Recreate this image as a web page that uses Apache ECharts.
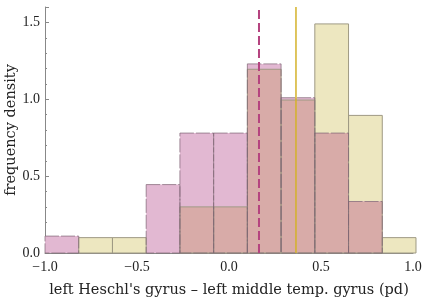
<!DOCTYPE html>
<html><head><meta charset="utf-8">
<script src="https://cdn.jsdelivr.net/npm/echarts@6/dist/echarts.min.js"></script>
<style>html,body{margin:0;padding:0;background:#fff}#c{width:425px;height:307px}</style>
</head><body><div id="c"></div>
<script>
const binStart = -1.0;
const binWidth = 0.1833;
const pinkDensity   = [0.11, 0, 0, 0.445, 0.78, 0.78, 1.23, 1.01, 0.78, 0.335, 0];
const yellowDensity = [0, 0.1, 0.1, 0, 0.3, 0.3, 1.195, 0.995, 1.49, 0.895, 0.1];
const pinkMean = 0.163;
const yellowMean = 0.364;
const xTicks = [-1.0, -0.5, 0.0, 0.5, 1.0];
const yTicks = [0.0, 0.5, 1.0, 1.5];

function binData(arr){
  return arr.map((h,i)=>[binStart+i*binWidth, binStart+(i+1)*binWidth, h]);
}
const overlapDensity = pinkDensity.map((p,i)=>Math.min(p, yellowDensity[i]));

function rectSeries(data, fill, stroke, dash, z){
  return {
    type:'custom', z:z, silent:true, clip:false,
    encode:{x:[0,1], y:2},
    data:data,
    renderItem:function(params, api){
      const h = api.value(2);
      if (!(h > 0)) return null;
      const p0 = api.coord([api.value(0), h]);
      const p1 = api.coord([api.value(1), 0]);
      return {type:'rect',
        shape:{x:p0[0], y:p0[1], width:p1[0]-p0[0], height:p1[1]-p0[1]},
        style:{fill:fill, stroke:stroke, lineWidth: stroke? 1:0, lineDash: dash||null}};
    }
  };
}

const fmt = v => (v<0?'\u2212':'') + Math.abs(v).toFixed(1);
const nameFont = 'DejaVu Serif';
const tickFont = 'Liberation Serif';
const chart = echarts.init(document.getElementById('c'), null, {renderer:'canvas'});
chart.setOption({
  animation:false,
  grid:{left:45, right:12, top:7, bottom:54, outerBoundsMode:'none', containLabel:false},
  xAxis:{type:'value', min:-1.0, max:1.0, interval:0.5,
    name:"left Heschl's gyrus \u2013 left middle temp. gyrus (pd)",
    nameLocation:'middle', nameGap:30, nameMoveOverlap:false,
    nameTextStyle:{fontFamily:nameFont, fontSize:14.5, color:'#222'},
    axisLine:{show:true, onZero:false, lineStyle:{color:'#888', width:1}},
    axisTick:{show:true, inside:true, length:4, lineStyle:{color:'#888'}},
    minorTick:{show:true, splitNumber:5, length:2, lineStyle:{color:'#888'}},
    splitLine:{show:false},
    axisLabel:{formatter:fmt, fontFamily:tickFont, fontSize:14, color:'#222', margin:7}},
  yAxis:{type:'value', min:0, max:1.6, interval:0.5,
    name:'frequency density', nameLocation:'middle', nameGap:26, nameRotate:90, nameMoveOverlap:false,
    nameTextStyle:{fontFamily:nameFont, fontSize:14.5, color:'#222'},
    axisLine:{show:true, onZero:false, lineStyle:{color:'#888', width:1}},
    axisTick:{show:true, inside:true, length:4, lineStyle:{color:'#888'}},
    minorTick:{show:true, splitNumber:5, length:2, lineStyle:{color:'#888'}},
    splitLine:{show:false},
    axisLabel:{formatter:v=> yTicks.includes(v)? v.toFixed(1):'', fontFamily:tickFont, fontSize:14, color:'#222', margin:5, showMaxLabel:false}},
  series:[
    rectSeries(binData(yellowDensity), '#ede7c0', null, null, 1),
    rectSeries(binData(pinkDensity), '#e2b8d2', null, null, 2),
    rectSeries(binData(overlapDensity), '#d8aba8', null, null, 3),
    rectSeries(binData(yellowDensity), 'none', '#9f9a84', null, 4),
    rectSeries(binData(pinkDensity), 'none', 'rgba(125,100,115,0.7)', [14,2], 5),
    {type:'line', z:6, silent:true, symbol:'none', data:[[pinkMean,0],[pinkMean,1.6]],
      lineStyle:{color:'#b5437f', width:2, type:[9,4]}},
    {type:'line', z:6, silent:true, symbol:'none', data:[[yellowMean,0],[yellowMean,1.6]],
      lineStyle:{color:'#d4b22a', width:1.5}}
  ]
});
</script></body></html>
